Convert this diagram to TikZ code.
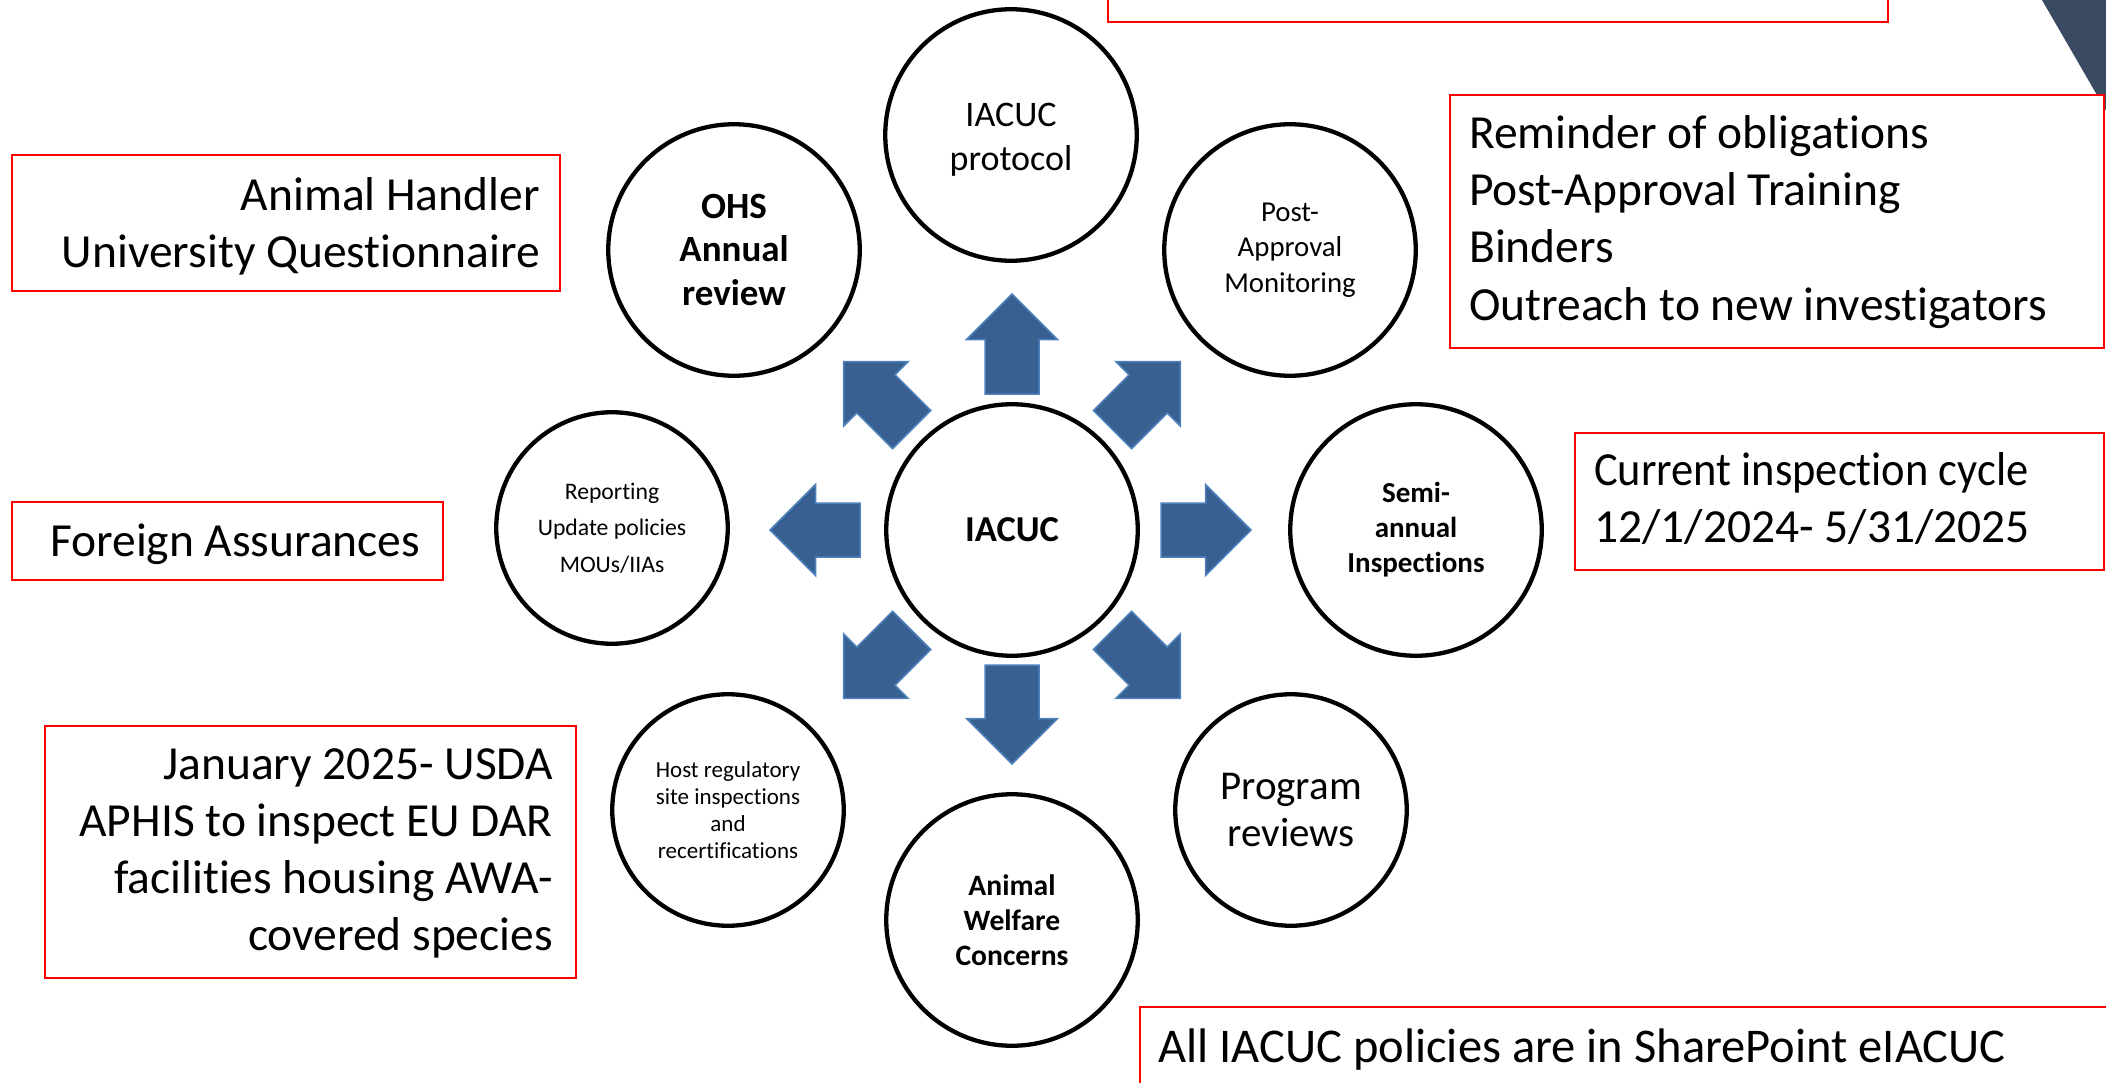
\documentclass[tikz,border=0pt]{standalone}
\usepackage{fontspec}
\setmainfont{Carlito}[Ligatures=NoCommon]
\definecolor{arrowfill}{RGB}{56,97,146}
\definecolor{arrowedge}{RGB}{79,129,189}
\definecolor{darktri}{RGB}{59,74,99}
\definecolor{boxred}{RGB}{255,0,0}
\tikzset{
  bigcirc/.style={circle, draw=black, line width=4.3pt, minimum size=251.5pt, inner sep=0pt, align=center, fill=white},
  smallcirc/.style={circle, draw=black, line width=4.3pt, minimum size=231.5pt, inner sep=0pt, align=center, fill=white},
  redbox/.style={rectangle, draw=boxred, line width=2pt, fill=white, inner sep=0pt, anchor=north west},
  boxtext/.style={inner sep=0pt, font=\fontsize{47.5}{57}\selectfont},
  blockarrow/.style={fill=arrowfill, draw=arrowedge, line width=1.5pt, line join=miter},
}
\newcommand{\blockarr}[4]{%
  \begin{scope}[shift={(#1)}, rotate=#2]
    \draw[blockarrow] (#3,-27) -- ({#3+#4-45.5},-27) -- ({#3+#4-45.5},-45.5) -- ({#3+#4},0)
      -- ({#3+#4-45.5},45.5) -- ({#3+#4-45.5},27) -- (#3,27) -- cycle;
  \end{scope}}
\begin{document}
\begin{tikzpicture}[x=1pt, y=-1pt]
\useasboundingbox (0,0) rectangle (2106,1083);
\fill[white] (0,0) rectangle (2106,1083);

% dark corner triangle
\fill[darktri] (2042,0) -- (2112,0) -- (2112,121) -- cycle;

% red boxes
\node[redbox, minimum width=780pt, minimum height=45pt] (topbox) at (1107,-24) {};
\node[redbox, minimum width=548pt, minimum height=136pt] (ahbox) at (11,154) {};
\node[redbox, minimum width=431pt, minimum height=78pt] (fabox) at (11,501) {};
\node[redbox, minimum width=531pt, minimum height=252pt] (janbox) at (44,725) {};
\node[redbox, minimum width=654pt, minimum height=253pt] (rembox) at (1449,94) {};
\node[redbox, minimum width=529pt, minimum height=137pt] (curbox) at (1574,432) {};
\node[redbox, minimum width=1000pt, minimum height=120pt] (allbox) at (1139,1006) {};

% box texts
\node[boxtext, anchor=base east] (ah1) at (540,211) {Animal Handler};
\node[boxtext, anchor=base east] (ah2) at (540,268) {University Questionnaire};
\node[boxtext, anchor=base west] (fa1) at (50,556) {Foreign Assurances};
\node[boxtext, anchor=base east] (jan1) at (553,779) {January 2025- USDA};
\node[boxtext, anchor=base east] (jan2) at (553,836) {APHIS to inspect EU DAR};
\node[boxtext, anchor=base east] (jan3) at (553,893) {facilities housing AWA-};
\node[boxtext, anchor=base east] (jan4) at (553,950) {covered species};
\node[boxtext, anchor=base west] (rem1) at (1469,149) {Reminder of obligations};
\node[boxtext, anchor=base west] (rem2) at (1469,206) {Post-Approval Training};
\node[boxtext, anchor=base west] (rem3) at (1469,263) {Binders};
\node[boxtext, anchor=base west] (rem4) at (1469,320) {Outreach to new investigators};
\node[boxtext, anchor=base west] (cur1) at (1594,485) {\scalebox{0.936}[1]{Current inspection cycle}};
\node[boxtext, anchor=base west] (cur2) at (1594,542) {12/1/2024- 5/31/2025};
\node[boxtext, anchor=base west, font=\fontsize{48.5}{58}\selectfont] (all1) at (1158,1062) {All IACUC policies are in SharePoint eIACUC};

% circles
\node[bigcirc, font=\fontsize{36.5}{44}\selectfont\bfseries] (c) at (1012,530) {IACUC};
\node[bigcirc, font=\fontsize{36}{43.5}\selectfont] (prot) at (1011,135) {\rule{0pt}{33pt}IACUC\\protocol};
\node[bigcirc, font=\fontsize{37}{43.5}\selectfont\bfseries] (ohs) at (734,250) {OHS\\Annual\\review};
\node[bigcirc, font=\fontsize{28.8}{35.5}\selectfont] (pam) at (1290,250) {Post-\\Approval\\Monitoring};
\node[smallcirc, font=\fontsize{23.7}{36.5}\selectfont] (rep) at (612,528) {Reporting\\Update policies\\MOUs/IIAs};
\node[bigcirc, font=\fontsize{29}{35}\selectfont\bfseries] (semi) at (1416,530) {Semi-\\annual\\Inspections};
\node[smallcirc, font=\fontsize{23}{27}\selectfont] (host) at (728,810) {Host regulatory\\site inspections\\and\\recertifications};
\node[smallcirc, font=\fontsize{41}{47}\selectfont] (prog) at (1291,810) {Program\\reviews};
\node[bigcirc, font=\fontsize{29.6}{35}\selectfont\bfseries] (welf) at (1012,920) {Animal\\Welfare\\Concerns};

% block arrows from the centre
\blockarr{c}{90}{136}{100}
\blockarr{c}{270}{135}{99}
\blockarr{c}{0}{149}{90}
\blockarr{c}{180}{152}{90}
\blockarr{c}{45}{142}{96}
\blockarr{c}{135}{142}{96}
\blockarr{c}{225}{142}{96}
\blockarr{c}{315}{142}{96}
\end{tikzpicture}
\end{document}
